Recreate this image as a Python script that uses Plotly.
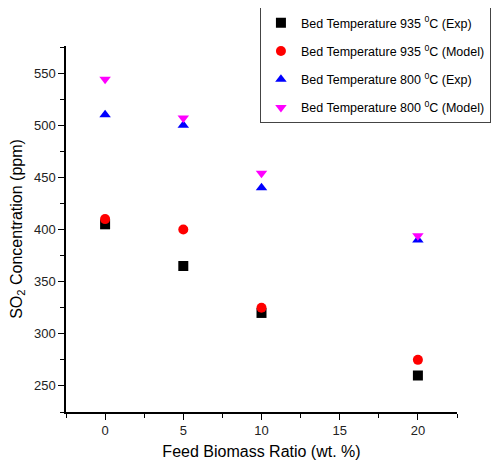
import plotly.graph_objects as go

x_vals = [0, 5, 10, 20]
exp_935 = [405, 365, 320, 260]
model_935 = [410, 400, 325, 275]
exp_800 = [510, 500, 440, 390]
model_800 = [544, 507, 454, 394]

names = [
    "Bed Temperature 935 <sup>0</sup>C (Exp)",
    "Bed Temperature 935 <sup>0</sup>C (Model)",
    "Bed Temperature 800 <sup>0</sup>C (Exp)",
    "Bed Temperature 800 <sup>0</sup>C (Model)",
]
series = [exp_935, model_935, exp_800, model_800]
symbols = ["square", "circle", "triangle-up", "triangle-down"]
colors = ["#000000", "#ff0000", "#0000ff", "#ff00ff"]

fig = go.Figure()
for i, (n, s, sym, c) in enumerate(zip(names, series, symbols, colors)):
    fig.add_trace(go.Scatter(
        x=x_vals, y=s, mode="markers", name=n, legendgroup=f"g{i}",
        marker=dict(symbol=sym, color=c, size=10, line=dict(width=0)),
    ))

axis_common = dict(
    showline=True, linecolor="black", linewidth=1.5, mirror=False,
    showgrid=False, zeroline=False, ticks="outside", ticklen=6,
    tickcolor="black", tickwidth=1.2, automargin=False,
    tickfont=dict(family="Arial, Liberation Sans", size=13, color="#222"),
)

# page body has an 8px default margin; figure size and offsets compensate for it
fig.update_layout(
    width=491, height=464,
    paper_bgcolor="white", plot_bgcolor="white",
    margin=dict(l=58, r=42, t=38, b=60, autoexpand=False),
    font=dict(family="Arial, Liberation Sans", color="black"),
    xaxis=dict(
        range=[-2.5, 22.5], tickvals=[0, 5, 10, 15, 20],
        minor=dict(ticks="outside", ticklen=4, dtick=2.5, tick0=0, tickcolor="black"),
        title=dict(text="Feed Biomass Ratio (wt. %)", font=dict(size=16), standoff=8),
        **axis_common,
    ),
    yaxis=dict(
        range=[225, 576], tickvals=[250, 300, 350, 400, 450, 500, 550],
        minor=dict(ticks="outside", ticklen=4, dtick=25, tick0=0, tickcolor="black"),
        title=dict(text="SO<sub>2</sub> Concentration (ppm)", font=dict(size=16), standoff=8),
        **axis_common,
    ),
    legend=dict(
        x=0.496, y=1.106, xanchor="left", yanchor="top",
        bordercolor="#444", borderwidth=1, bgcolor="white",
        font=dict(family="Arial, Liberation Sans", size=12.5, color="black"),
        tracegroupgap=9,
    ),
    showlegend=True,
)

fig.write_html("out.html")
